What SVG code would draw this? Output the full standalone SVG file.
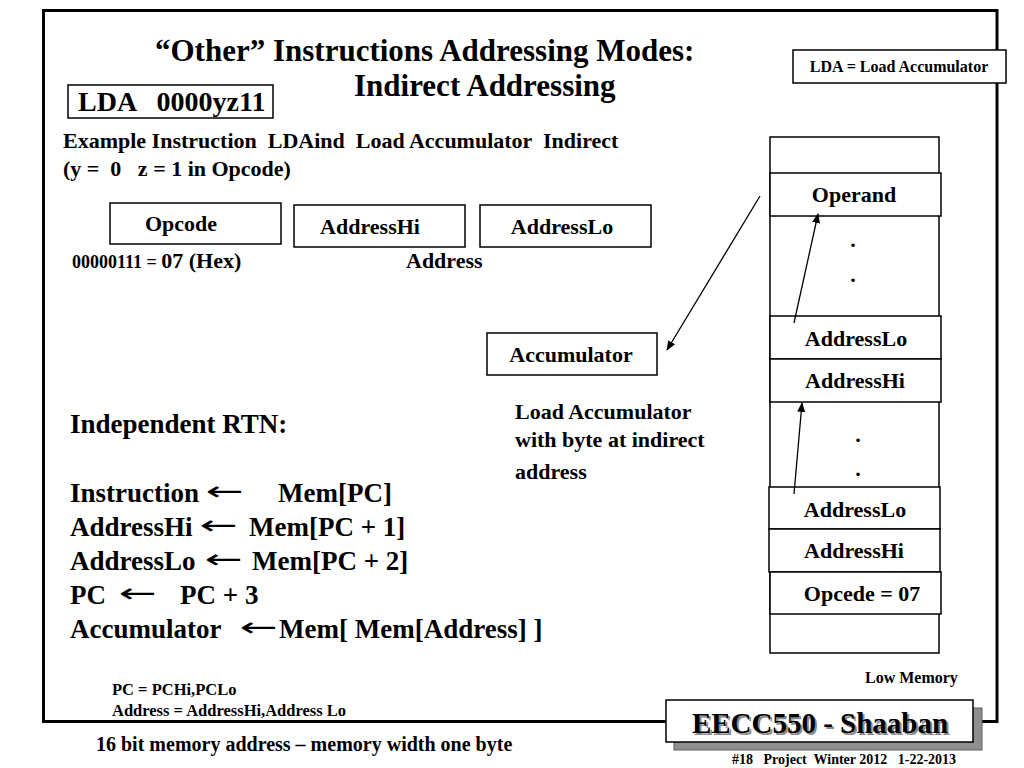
<svg xmlns="http://www.w3.org/2000/svg" width="1024" height="768" viewBox="0 0 1024 768">
<style>
  text { font-family: "Liberation Serif", "Times New Roman", serif; font-weight: bold; fill: #000; }
  .box { fill: #fff; stroke: #000; stroke-width: 1.5; }
  .cell { fill: #fff; stroke: #000; stroke-width: 1.5; }
  .conn { stroke: #000; stroke-width: 1.3; fill: none; marker-end: url(#arr); }
  .t22 { font-size: 22px; }
  .rtn { font-size: 27px; }
  .arw { font-family: "DejaVu Sans", sans-serif; font-weight: normal; font-size: 26px; }
  .mid { text-anchor: middle; }
</style>
<defs>
  <marker id="arr" viewBox="0 0 10 10" refX="9" refY="5" markerWidth="10" markerHeight="10" markerUnits="userSpaceOnUse" orient="auto">
    <path d="M0,1 L10,5 L0,9 Z" fill="#000"/>
  </marker>
</defs>
<rect width="1024" height="768" fill="#fff"/>
<!-- slide frame -->
<rect x="43.5" y="10.5" width="953.5" height="711" fill="none" stroke="#000" stroke-width="3"/>

<!-- title -->
<g id="title">
  <text x="155" y="61" font-size="31">“Other” Instructions Addressing Modes:</text>
  <text x="354" y="96" font-size="31">Indirect Addressing</text>
</g>

<g id="lda-box">
  <rect class="box" x="68" y="85" width="205" height="33"/>
  <text x="78" y="111" font-size="28" xml:space="preserve">LDA   0000yz11</text>
</g>

<g id="lda-note">
  <rect class="box" x="793" y="50" width="213" height="33"/>
  <text x="899" y="72" font-size="16" class="mid">LDA = Load Accumulator</text>
</g>

<g id="example">
  <text x="63" y="148" class="t22" xml:space="preserve">Example Instruction  LDAind  Load Accumulator  Indirect</text>
  <text x="63" y="176" class="t22" xml:space="preserve">(y =  0   z = 1 in Opcode)</text>
</g>

<g id="opcode-field">
  <rect class="box" x="110" y="203" width="171" height="41"/>
  <text x="181" y="231" class="t22 mid">Opcode</text>
</g>
<g id="addresshi-field">
  <rect class="box" x="294" y="205" width="171" height="42"/>
  <text x="370" y="234" class="t22 mid">AddressHi</text>
</g>
<g id="addresslo-field">
  <rect class="box" x="480" y="205" width="171" height="42"/>
  <text x="562" y="234" class="t22 mid">AddressLo</text>
</g>
<g id="field-labels">
  <text x="72" y="268"><tspan font-size="18">00000111 = </tspan><tspan font-size="22">07 (Hex)</tspan></text>
  <text x="406" y="268" class="t22">Address</text>
</g>

<g id="accumulator">
  <rect class="box" x="487" y="333" width="170" height="42"/>
  <text x="571" y="362" class="t22 mid">Accumulator</text>
</g>
<g id="accumulator-note">
  <text x="515" y="419" class="t22">Load Accumulator</text>
  <text x="515" y="447" class="t22">with byte at indirect</text>
  <text x="515" y="479" class="t22">address</text>
</g>

<g id="rtn">
  <text x="70" y="433" class="rtn">Independent RTN:</text>
  <text x="70" y="502" class="rtn">Instruction</text>
  <text x="206" y="500" class="arw" textLength="38" lengthAdjust="spacingAndGlyphs">←</text>
  <text x="278" y="502" class="rtn">Mem[PC]</text>
  <text x="70" y="536" class="rtn">AddressHi</text>
  <text x="200" y="534" class="arw" textLength="38" lengthAdjust="spacingAndGlyphs">←</text>
  <text x="249" y="536" class="rtn">Mem[PC + 1]</text>
  <text x="70" y="570" class="rtn">AddressLo</text>
  <text x="205" y="568" class="arw" textLength="38" lengthAdjust="spacingAndGlyphs">←</text>
  <text x="252" y="570" class="rtn">Mem[PC + 2]</text>
  <text x="70" y="604" class="rtn">PC</text>
  <text x="119" y="602" class="arw" textLength="38" lengthAdjust="spacingAndGlyphs">←</text>
  <text x="180" y="604" class="rtn">PC + 3</text>
  <text x="70" y="638" class="rtn">Accumulator</text>
  <text x="240" y="636" class="arw" textLength="38" lengthAdjust="spacingAndGlyphs">←</text>
  <text x="279" y="638" class="rtn">Mem[ Mem[Address] ]</text>
</g>

<!-- memory -->
<g id="memory">
  <rect class="cell" x="770" y="137" width="169" height="516"/>
  <text x="865" y="683" font-size="16">Low Memory</text>
</g>
<g id="mem-operand">
  <rect class="cell" x="770" y="173" width="171" height="43"/>
  <text x="854" y="202" class="t22 mid">Operand</text>
</g>
<g id="mem-dots1">
  <text x="853" y="247" class="t22 mid">.</text>
  <text x="853" y="282" class="t22 mid">.</text>
</g>
<g id="mem-addresslo1">
  <rect class="cell" x="770" y="316" width="171" height="43"/>
  <text x="856" y="346" class="t22 mid">AddressLo</text>
</g>
<g id="mem-addresshi1">
  <rect class="cell" x="770" y="359" width="171" height="43"/>
  <text x="855" y="388" class="t22 mid">AddressHi</text>
</g>
<g id="mem-dots2">
  <text x="858" y="442" class="t22 mid">.</text>
  <text x="858" y="476" class="t22 mid">.</text>
</g>
<g id="mem-addresslo2">
  <rect class="cell" x="769" y="487" width="171" height="42"/>
  <text x="855" y="517" class="t22 mid">AddressLo</text>
</g>
<g id="mem-addresshi2">
  <rect class="cell" x="769" y="529" width="171" height="43"/>
  <text x="854" y="558" class="t22 mid">AddressHi</text>
</g>
<g id="mem-opcode">
  <rect class="cell" x="770" y="572" width="171" height="42"/>
  <text x="862" y="601" class="t22 mid">Opcede = 07</text>
</g>

<g id="connectors">
  <line class="conn" x1="760" y1="196" x2="667" y2="350"/>
  <line class="conn" x1="794" y1="323" x2="818" y2="214"/>
  <line class="conn" x1="794" y1="494" x2="802" y2="403"/>
</g>

<g id="notes">
  <text x="112" y="695" font-size="16.5">PC = PCHi,PCLo</text>
  <text x="112" y="716" font-size="16.5">Address = AddressHi,Address Lo</text>
  <text x="96" y="751" font-size="20">16 bit memory address – memory width one byte</text>
</g>

<g id="footer">
  <rect x="674" y="708" width="308" height="42" fill="#8f8f8f" stroke="#606060" stroke-width="1"/>
  <rect class="box" x="666" y="700" width="307" height="42"/>
  <text x="822" y="735" font-size="29" class="mid" style="fill:#8a8a8a">EECC550 - Shaaban</text>
  <text x="820" y="733" font-size="29" class="mid">EECC550 - Shaaban</text>
  <text x="732" y="764" font-size="14" xml:space="preserve">#18   Project  Winter 2012   1-22-2013</text>
</g>
</svg>
